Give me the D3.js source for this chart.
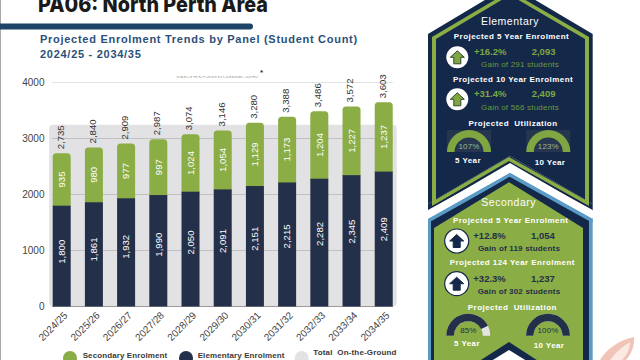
<!DOCTYPE html>
<html><head><meta charset="utf-8">
<style>html,body{margin:0;padding:0;background:#fff}svg{display:block}text{font-family:"Liberation Sans",Arial,sans-serif}</style>
<script src="https://cdn.jsdelivr.net/npm/d3@7"></script></head><body>
<svg id="c" width="640" height="360"></svg>
<script>
const years=["2024/25","2025/26","2026/27","2027/28","2028/29","2029/30","2030/31","2031/32","2032/33","2033/34","2034/35"];
const elementary=[1800,1861,1932,1990,2050,2091,2151,2215,2282,2345,2409];
const secondary=[935,980,977,997,1024,1054,1129,1173,1204,1227,1237];
const totalLabels=["2,735","2,840","2,909","2,987","3,074","3,146","3,280","3,388","3,486","3,572","3,603"];
const capacity=[3246,3246,3246,3246,3246,3246,3246,3246,3246,3246,3246];
const yTicks=[0,1000,2000,3000,4000];
const legendItems=["Secondary Enrolment","Elementary Enrolment"];
const elemUtil=[107,123];
const secUtil=[85,100];

const NAVY="#242f49",GREEN="#8bad45",BAND="#e2e2e4",PANEL="#14284a",SKY="#5b9cc6";
const svg=d3.select("#c");
const fmt=d3.format(",");
const x=d3.scaleBand().domain(years).range([46.26,399.17]).paddingInner(0.441).paddingOuter(0.2);
const y=d3.scaleLinear().domain([0,4000]).range([306.5,82.5]);
const T=(s,px,py,o={})=>svg.append("text").attr("x",px).attr("y",py).text(s)
  .attr("font-size",o.size||8).attr("font-weight",o.w||"normal").attr("fill",o.c||"#fff")
  .attr("text-anchor",o.a||"middle").attr("letter-spacing",o.ls||0);

// page furniture
svg.append("rect").attr("x",0).attr("y",0).attr("width",1).attr("height",360).attr("fill","#a9a9a9");
svg.append("text").attr("x",38).attr("y",11.5).text("PA06: North Perth Area")
  .attr("font-size",22).attr("font-weight",800).attr("fill","#1a1a1a").style("font-family","Inter")
  .attr("textLength",230).attr("lengthAdjust","spacingAndGlyphs");
svg.append("path").attr("d","M0,26.5H250").attr("stroke","#1f4468").attr("stroke-width",6).attr("stroke-linecap","round");
T("Projected Enrolment Trends by Panel (Student Count)",40,42.7,{a:"start",w:"bold",size:11,c:"#2b5079",ls:.72});
T("2024/25 - 2034/35",40,58.3,{a:"start",w:"bold",size:11,c:"#2b5079",ls:.72});

// capacity band
const bandL=x(years[0])-3.5, bandR=x(years[10])+x.bandwidth()+4;
svg.append("rect").attr("x",bandL).attr("y",y(d3.max(capacity))).attr("width",bandR-bandL)
  .attr("height",y(0)-y(d3.max(capacity))).attr("rx",4).attr("fill",BAND);

// clipped caption above chart
svg.append("clipPath").attr("id","cap").append("rect").attr("x",170).attr("y",76.2).attr("width",90).attr("height",1.4);
svg.append("text").attr("x",175).attr("y",77.6).text("Total On-the-Ground Capacity: 3,246")
  .attr("font-size",7).attr("fill","#8a8a8a").attr("clip-path","url(#cap)").attr("textLength",83);
T("*",261.5,75,{size:8,w:"bold",c:"#333"});

// grid and y axis
const axisY=d3.axisLeft(y).tickValues(yTicks).tickFormat(d3.format("d")).tickSize(0).tickPadding(0);
const gy=svg.append("g").attr("transform","translate(44.5,0)").call(axisY);
gy.select(".domain").remove();
gy.selectAll("text").attr("font-size",10).attr("fill","#444").style("font-family",'"Liberation Sans"');
svg.append("g").selectAll("line").data(yTicks).join("line")
  .attr("x1",52).attr("x2",393).attr("y1",d=>y(d)).attr("y2",d=>y(d))
  .attr("stroke",d=>d===0?"#9a9a9a":(d===4000?"#dcdcdc":"#b9b9b9")).attr("stroke-width",d=>d===0?1:.8);

// bars
const bw=x.bandwidth();
const topRound=(X,Y,W,H,r)=>{const p=d3.path();p.moveTo(X,Y+H);p.lineTo(X,Y+r);p.quadraticCurveTo(X,Y,X+r,Y);p.lineTo(X+W-r,Y);p.quadraticCurveTo(X+W,Y,X+W,Y+r);p.lineTo(X+W,Y+H);p.closePath();return p.toString();};
const g=svg.append("g");
g.selectAll(".sec").data(years).join("path").attr("class","sec").attr("fill",GREEN)
  .attr("d",(d,i)=>topRound(x(d),y(elementary[i]+secondary[i]),bw,y(elementary[i])-y(elementary[i]+secondary[i])+1,3.5));
g.selectAll(".ele").data(years).join("rect").attr("class","ele").attr("fill",NAVY)
  .attr("x",d=>x(d)).attr("width",bw).attr("y",(d,i)=>y(elementary[i])).attr("height",(d,i)=>y(0)-y(elementary[i]));

const vlab=(fn,col,txt)=>g.selectAll(null).data(years).join("text")
  .attr("transform",(d,i)=>`translate(${x(d)+bw/2+3.3-(col==="#333"?1.4:0)},${fn(i)}) rotate(-90)`)
  .attr("text-anchor",col==="#333"?"start":"middle").attr("font-size",9.6).attr("fill",col)
  .text((d,i)=>txt(i));
vlab(i=>y(elementary[i]*0.66-210),"#fff",i=>fmt(elementary[i]));
vlab(i=>y(elementary[i]+secondary[i]/2),"#fff",i=>fmt(secondary[i]));
vlab(i=>y(elementary[i]+secondary[i])-4,"#333",i=>totalLabels[i]);

// x axis labels
svg.append("g").selectAll("text").data(years).join("text").text(d=>d)
  .attr("transform",d=>`translate(${x(d)+bw/2+6.5},${316}) rotate(-45)`)
  .attr("text-anchor","end").attr("font-size",10).attr("fill","#444");

// legend
const lx=[[70,82.7],[186,197.7]];
[GREEN,NAVY].forEach((c,i)=>{
  svg.append("circle").attr("cx",lx[i][0]).attr("cy",358).attr("r",7).attr("fill",c);
  T(legendItems[i],lx[i][1],358,{a:"start",w:"bold",size:8,c:"#3a3a3a",ls:.1});
});
svg.append("circle").attr("cx",301.7).attr("cy",358).attr("r",7).attr("fill",BAND);
T("Total  On-the-Ground",313.3,355,{a:"start",w:"bold",size:8,c:"#3a3a3a",ls:.15}).attr("xml:space","preserve");
T("Capacity",313.3,365,{a:"start",w:"bold",size:8,c:"#3a3a3a",ls:.15});

// watermark leaf
svg.append("path").attr("d","M600,360C606,350 618,340 634,337C635,346 631,354 626,360Z").attr("fill","#f2c4b8");
svg.append("path").attr("d","M610,360C616,352 622,347 630,342C630,348 627,355 622,360Z").attr("fill","#fbe9e4");

// panels (decorative)
const poly=(pts,f)=>svg.append("polygon").attr("points",pts.map(p=>p.join(",")).join(" ")).attr("fill",f);
poly([[428,217],[510,166],[592.7,217],[592.7,360],[428,360]],SKY);
poly([[431,220],[510,173],[589,220],[589,360],[431,360]],PANEL);
poly([[434,228],[509,182],[583,228],[583,360],[434,360]],GREEN);
poly([[434,390],[509,342],[583,390]],PANEL);
poly([[470,374],[509,350],[548,374]],"#fff");
poly([[428,34],[510,-15],[592.7,34],[592.7,204],[510,156],[428,204]],PANEL);
poly([[428,204],[510,156],[592.7,204],[592.7,211],[510,163],[428,211]],PANEL);
poly([[432,37],[510,-9],[589,37],[589,204],[585,204],[585,39],[510,-5],[436,39],[436,204],[432,204]],GREEN);
poly([[432,202],[509,157],[589,202],[589,206],[509,161],[432,206]],GREEN);
poly([[428,210],[510,165],[592.7,210],[592.7,219],[510,173],[428,219]],"#fff");
poly([[428,219],[510,173],[592.7,219],[592.7,223],[510,177],[428,223]],SKY);
poly([[433,223],[509,177],[587,223],[587,228],[509,182],[433,228]],PANEL);

// arrows
const arrow=(cx,cy,r,ring,fill,stroke)=>{
  svg.append("circle").attr("cx",cx).attr("cy",cy).attr("r",r).attr("fill","#fff").attr("stroke",ring).attr("stroke-width",ring==="none"?0:1.2);
  const pts=[[0,-6.5],[7,0],[3.5,0],[3.5,6.5],[-3.5,6.5],[-3.5,0],[-7,0]];
  svg.append("polygon").attr("points",pts.map(p=>[cx+p[0],cy+p[1]].join(",")).join(" "))
    .attr("fill",fill).attr("stroke",stroke).attr("stroke-width",1);
};
const LG="#7fa640";
T("Elementary",510,24.5,{size:10.5,ls:.5});
T("Projected 5 Year Enrolment",511.5,39,{size:8,w:"bold",ls:.44});
arrow(457.3,57.3,11,"none",LG,"#2f4a2a");
T("+16.2%",474,54.7,{a:"start",size:9.5,w:"bold",c:LG});
T("2,093",531.7,54.7,{a:"start",size:9.5,w:"bold",c:LG});
T("Gain of 291 students",520,66.7,{size:8,c:"#6d9a3c",ls:.2});
T("Projected 10 Year Enrolment",513,81.7,{size:8,w:"bold",ls:.44});
arrow(457.3,99.3,11,"none",LG,"#2f4a2a");
T("+31.4%",474,97.3,{a:"start",size:9.5,w:"bold",c:LG});
T("2,409",531.7,97.3,{a:"start",size:9.5,w:"bold",c:LG});
T("Gain of 566 students",520,109.7,{size:8,c:"#6d9a3c",ls:.2});
T("Projected  Utilization",513,125.7,{size:8,w:"bold",ls:.45}).attr("xml:space","preserve");

T("Secondary",508.7,206.3,{size:10.5,ls:.5});
T("Projected 5 Year Enrolment",510.7,223.3,{size:8,w:"bold",ls:.44});
arrow(456.7,241,12,PANEL,PANEL,PANEL);
T("+12.8%",473.3,238.7,{a:"start",size:9.5,w:"bold",c:NAVY});
T("1,054",531,238.7,{a:"start",size:9.5,w:"bold",c:NAVY});
T("Gain of 119 students",519,250.7,{size:8,w:"bold",c:NAVY,ls:.2});
T("Projected 124 Year Enrolment",512.3,265.3,{size:8,w:"bold",ls:.44});
arrow(456.7,283.7,12,PANEL,PANEL,PANEL);
T("+32.3%",473.3,281.7,{a:"start",size:9.5,w:"bold",c:NAVY});
T("1,237",531,281.7,{a:"start",size:9.5,w:"bold",c:NAVY});
T("Gain of 302 students",519,293.7,{size:8,w:"bold",c:NAVY,ls:.2});
T("Projected  Utilization",512.3,309.7,{size:8,w:"bold",ls:.45}).attr("xml:space","preserve");

// gauges
const ang=d3.scaleLinear().domain([0,100]).range([-Math.PI/2,Math.PI/2]).clamp(true);
const arc=d3.arc().innerRadius(14.5).outerRadius(22);
const gauge=(cx,cy,v,col,track,bg,tc,ty)=>{
  if(bg) svg.append("rect").attr("x",cx-22).attr("y",cy-22).attr("width",44).attr("height",22).attr("fill",bg);
  svg.append("path").attr("transform",`translate(${cx},${cy})`).attr("fill",track)
    .attr("d",arc({startAngle:ang(0),endAngle:ang(100)}));
  svg.append("path").attr("transform",`translate(${cx},${cy})`).attr("fill",col)
    .attr("d",arc({startAngle:ang(0),endAngle:ang(v)}));
  T(v+"%",cx,ty,{size:8,c:tc,ls:.1});
};
gauge(469,152,elemUtil[0],LG,"#2a3a55","#26364f","#9db78a",149.3);
gauge(548.3,152,elemUtil[1],LG,"#2a3a55","#26364f","#9db78a",149.3);
gauge(468.3,335.7,secUtil[0],NAVY,"#e4e4e6",null,NAVY,333);
gauge(548,335.7,secUtil[1],NAVY,"#e4e4e6",null,NAVY,333);
T("5 Year",468,162.7,{size:8,w:"bold",ls:.4});
T("10 Year",550,164.7,{size:8,w:"bold",ls:.4});
T("5 Year",467,346.3,{size:8,w:"bold",ls:.4});
T("10 Year",549,348.3,{size:8,w:"bold",ls:.4});
</script></body></html>
